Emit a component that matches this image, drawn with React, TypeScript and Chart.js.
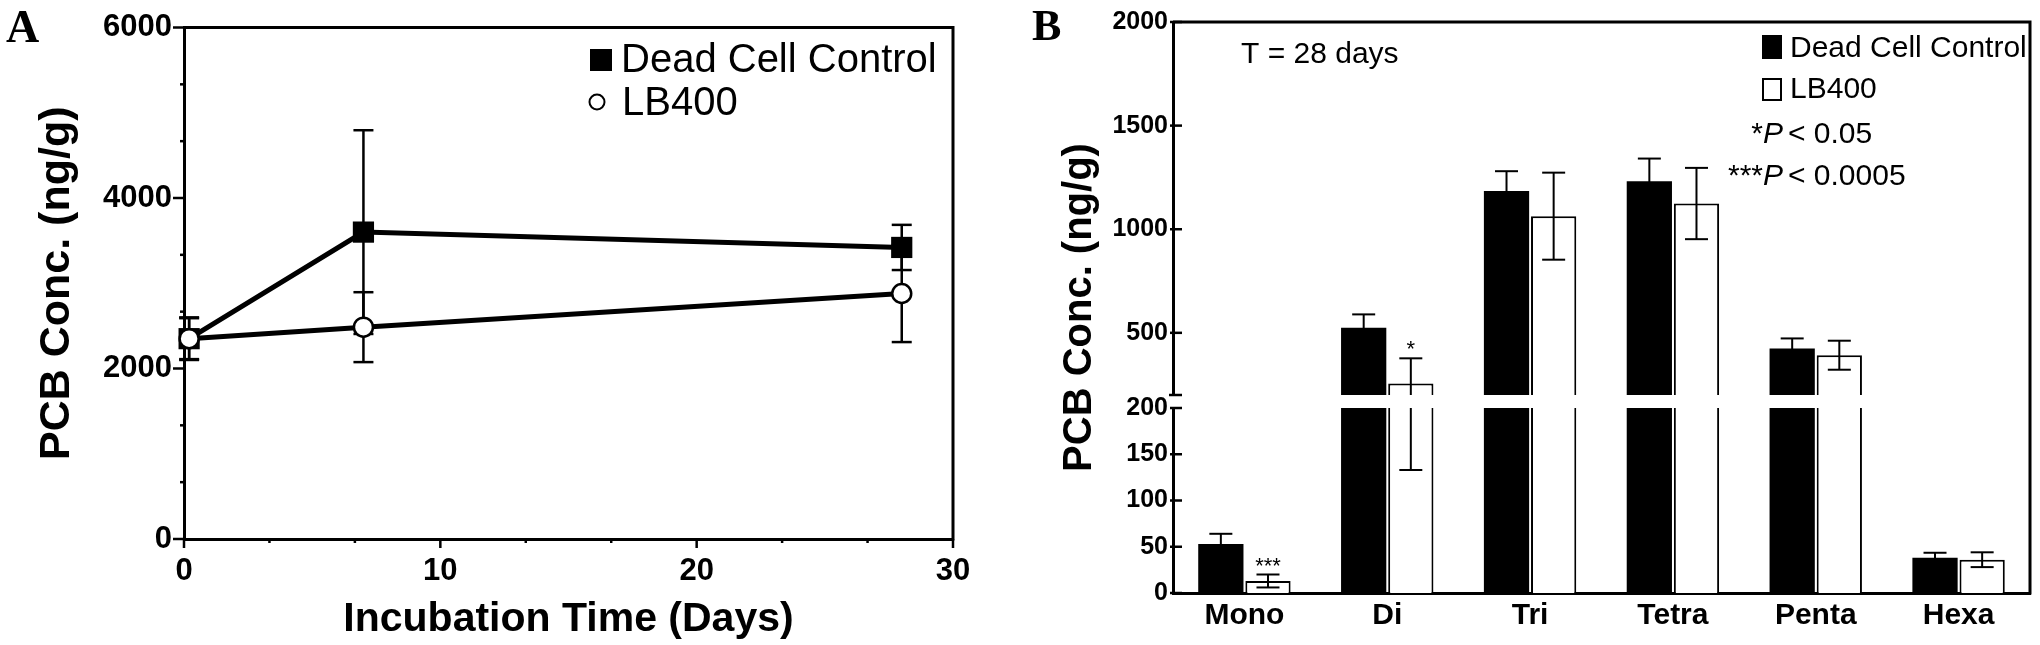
import React, { useEffect, useRef } from 'react';
import { Chart, registerables, LinearScale } from 'chart.js';

Chart.register(...registerables);

const FONT = "'Liberation Sans', Arial, Helvetica, sans-serif";
const SERIF = "'Liberation Serif', 'Times New Roman', serif";

// ---------- Panel A data ----------
const daysA = [0.2, 7, 28];
const deadCellA = [2350, 3600, 3420];
const deadCellErrA = [250, 1195, 265];
const lb400A = [2350, 2485, 2880];
const lb400ErrA = [240, 410, 570];
const xTicksA = [0, 10, 20, 30];
const yTicksA = [0, 2000, 4000, 6000];

// ---------- Panel B data ----------
const congeners = ['Mono', 'Di', 'Tri', 'Tetra', 'Penta', 'Hexa'];
const deadCellB = [53, 524, 1185, 1232, 425, 38];
const deadCellErrB = [11, 65, 95, 109, 48, 5.5];
const lb400B = [13, 255, 1063, 1124, 392, 36];
const lb400ErrB = [7, 122, 210, 172, 70, 8];
const sigB = ['***', '*', '', '', '', ''];
const yTicksB = [0, 50, 100, 150, 200, 500, 1000, 1500, 2000];
const BREAK_VALUE = 200;
const Y_MAX_B = 2000;

// fractions of the axis height used by the lower segment and the gap
const LOWER_FRAC = 185 / 571;
const GAP_FRAC = 13 / 571;

class BrokenLinearScale extends LinearScale {
  static id = 'brokenLinear';
  static defaults = {};
  getPixelForValue(value: number) {
    const min = this.min;
    const max = this.max;
    let dec: number;
    if (value <= BREAK_VALUE) {
      dec = ((value - min) / (BREAK_VALUE - min)) * LOWER_FRAC;
    } else {
      dec = LOWER_FRAC + GAP_FRAC + ((value - BREAK_VALUE) / (max - BREAK_VALUE)) * (1 - LOWER_FRAC - GAP_FRAC);
    }
    return this.getPixelForDecimal(dec);
  }
  getValueForPixel(pixel: number) {
    const dec = this.getDecimalForPixel(pixel);
    if (dec <= LOWER_FRAC) return this.min + (dec / LOWER_FRAC) * (BREAK_VALUE - this.min);
    return BREAK_VALUE + ((dec - LOWER_FRAC - GAP_FRAC) / (1 - LOWER_FRAC - GAP_FRAC)) * (this.max - BREAK_VALUE);
  }
}
Chart.register(BrokenLinearScale as any);

Chart.defaults.color = '#000';
Chart.defaults.font.family = FONT;

function line(ctx: CanvasRenderingContext2D, x1: number, y1: number, x2: number, y2: number) {
  ctx.beginPath();
  ctx.moveTo(x1, y1);
  ctx.lineTo(x2, y2);
  ctx.stroke();
}

function text(ctx: CanvasRenderingContext2D, s: string, x: number, y: number, font: string, align: CanvasTextAlign = 'left') {
  ctx.font = font;
  ctx.textAlign = align;
  ctx.textBaseline = 'alphabetic';
  ctx.fillStyle = '#000';
  ctx.fillText(s, x, y);
}

const panelAPlugin = {
  id: 'panelA',
  beforeDatasetsDraw(chart: any) {
    const { ctx, scales } = chart;
    const x = scales.x, y = scales.y;
    ctx.save();
    ctx.strokeStyle = '#000';
    ctx.lineWidth = 2.5;
    const series: [number[], number[]][] = [[deadCellA, deadCellErrA], [lb400A, lb400ErrA]];
    for (const [vals, errs] of series) {
      vals.forEach((v, i) => {
        const px = x.getPixelForValue(daysA[i]);
        const top = y.getPixelForValue(v + errs[i]);
        const bot = y.getPixelForValue(v - errs[i]);
        line(ctx, px, top, px, bot);
        line(ctx, px - 10, top, px + 10, top);
        line(ctx, px - 10, bot, px + 10, bot);
      });
    }
    ctx.restore();
  },
  afterDraw(chart: any) {
    const { ctx, chartArea: ca, scales } = chart;
    const x = scales.x, y = scales.y;
    ctx.save();
    ctx.strokeStyle = '#000';
    ctx.lineWidth = 3;
    ctx.beginPath();
    ctx.moveTo(ca.left, ca.top);
    ctx.lineTo(ca.right, ca.top);
    ctx.lineTo(ca.right, ca.bottom + 1.5);
    ctx.stroke();

    ctx.lineWidth = 2.5;
    for (let k = 0; k < xTicksA.length; k++) {
      const px = x.getPixelForValue(xTicksA[k]);
      line(ctx, px, ca.bottom, px, ca.bottom + 9);
      if (k < xTicksA.length - 1) {
        for (let m = 1; m < 3; m++) {
          const v = xTicksA[k] + ((xTicksA[k + 1] - xTicksA[k]) * m) / 3;
          const pm = x.getPixelForValue(v);
          line(ctx, pm, ca.bottom, pm, ca.bottom + 4);
        }
      }
    }
    for (let k = 0; k < yTicksA.length; k++) {
      const py = y.getPixelForValue(yTicksA[k]);
      line(ctx, ca.left - 11, py, ca.left, py);
      if (k < yTicksA.length - 1) {
        for (let m = 1; m < 3; m++) {
          const v = yTicksA[k] + ((yTicksA[k + 1] - yTicksA[k]) * m) / 3;
          const pm = y.getPixelForValue(v);
          line(ctx, ca.left - 4, pm, ca.left, pm);
        }
      }
    }

    // legend
    ctx.fillStyle = '#000';
    ctx.fillRect(590, 49, 22, 22);
    text(ctx, 'Dead Cell Control', 621, 72, `40px ${FONT}`);
    ctx.beginPath();
    ctx.arc(597, 102, 7.5, 0, Math.PI * 2);
    ctx.fillStyle = '#fff';
    ctx.fill();
    ctx.lineWidth = 2;
    ctx.stroke();
    text(ctx, 'LB400', 622, 115, `40px ${FONT}`);

    text(ctx, 'A', 6, 42, `bold 46px ${SERIF}`);
    ctx.restore();
  },
};

const panelBPlugin = {
  id: 'panelB',
  afterDatasetsDraw(chart: any) {
    const { ctx, chartArea: ca, scales } = chart;
    const y = scales.y;
    ctx.save();
    ctx.strokeStyle = '#000';
    ctx.lineWidth = 2;
    const series: [number[], number[]][] = [[deadCellB, deadCellErrB], [lb400B, lb400ErrB]];
    series.forEach(([vals, errs], d) => {
      const meta = chart.getDatasetMeta(d);
      vals.forEach((v, i) => {
        const px = meta.data[i].x;
        const top = y.getPixelForValue(v + errs[i]);
        const bot = y.getPixelForValue(Math.max(v - errs[i], 0));
        line(ctx, px, top, px, bot);
        line(ctx, px - 11.5, top, px + 11.5, top);
        line(ctx, px - 11.5, bot, px + 11.5, bot);
      });
    });

    // significance marks above LB400 bars
    const metaLB = chart.getDatasetMeta(1);
    sigB.forEach((s, i) => {
      if (!s) return;
      const px = metaLB.data[i].x;
      const py = y.getPixelForValue(lb400B[i] + lb400ErrB[i]);
      text(ctx, s, px, py - 2, `22px ${FONT}`, 'center');
    });

    // axis break
    const gapTop = y.getPixelForValue(BREAK_VALUE + 1e-6);
    const gapBot = y.getPixelForValue(BREAK_VALUE);
    ctx.fillStyle = '#fff';
    ctx.fillRect(ca.left - 3, gapTop, ca.right - ca.left + 3, gapBot - gapTop);

    // ticks (inward)
    ctx.lineWidth = 2.5;
    yTicksB.forEach((v) => {
      const py = y.getPixelForValue(v);
      line(ctx, ca.left - 3, py, ca.left + 9, py);
    });
    line(ctx, ca.left - 4, gapTop, ca.left + 9, gapTop);

    // frame
    ctx.lineWidth = 3;
    ctx.beginPath();
    ctx.moveTo(ca.left, ca.top);
    ctx.lineTo(ca.right, ca.top);
    ctx.lineTo(ca.right, ca.bottom + 1.5);
    ctx.stroke();
    ctx.restore();
  },
  afterDraw(chart: any) {
    const { ctx } = chart;
    ctx.save();
    text(ctx, 'B', 12, 40, `bold 44px ${SERIF}`);
    text(ctx, 'T = 28 days', 221, 63, `30px ${FONT}`);

    // legend
    ctx.fillStyle = '#000';
    ctx.fillRect(742, 35, 20, 24);
    ctx.fillStyle = '#fff';
    ctx.fillRect(743, 79, 18, 21);
    ctx.strokeStyle = '#000';
    ctx.lineWidth = 2;
    ctx.strokeRect(743, 79, 18, 21);
    text(ctx, 'Dead Cell Control', 770, 57, `30px ${FONT}`);
    text(ctx, 'LB400', 770, 98, `30px ${FONT}`);

    const pRows: [string, string, number][] = [['*', '< 0.05', 143], ['***', '< 0.0005', 185]];
    pRows.forEach(([stars, val, base]) => {
      text(ctx, val, 768, base, `30px ${FONT}`);
      ctx.font = `italic 30px ${FONT}`;
      const pw = ctx.measureText('P').width;
      text(ctx, 'P', 763, base, `italic 30px ${FONT}`, 'right');
      text(ctx, stars, 763 - pw, base, `30px ${FONT}`, 'right');
    });
    ctx.restore();
  },
};

function PanelA() {
  const ref = useRef<HTMLCanvasElement>(null);
  useEffect(() => {
    const chart = new Chart(ref.current as HTMLCanvasElement, {
      type: 'line',
      data: {
        datasets: [
          {
            label: 'LB400',
            data: daysA.map((d, i) => ({ x: d, y: lb400A[i] })),
            borderColor: '#000',
            borderWidth: 5,
            pointStyle: 'circle',
            pointRadius: 9.5,
            pointBackgroundColor: '#fff',
            pointBorderColor: '#000',
            pointBorderWidth: 2.5,
            tension: 0,
            fill: false,
            clip: false,
          },
          {
            label: 'Dead Cell Control',
            data: daysA.map((d, i) => ({ x: d, y: deadCellA[i] })),
            borderColor: '#000',
            borderWidth: 5,
            pointStyle: 'rect',
            pointRadius: 15,
            pointBackgroundColor: '#000',
            pointBorderColor: '#000',
            pointBorderWidth: 0,
            tension: 0,
            fill: false,
            clip: false,
          },
        ],
      } as any,
      options: {
        responsive: false,
        maintainAspectRatio: false,
        animation: false,
        events: [],
        layout: { padding: { top: 25, right: 67, left: 0, bottom: 0 } },
        plugins: { legend: { display: false }, tooltip: { enabled: false } },
        scales: {
          x: {
            type: 'linear',
            min: 0,
            max: 30,
            afterBuildTicks: (s: any) => {
              s.ticks = xTicksA.map((v) => ({ value: v }));
            },
            afterFit: (s: any) => {
              s.height = 106;
            },
            ticks: {
              font: { family: FONT, size: 31, weight: 'bold', lineHeight: 1 },
              color: '#000',
              padding: 16.5,
              maxRotation: 0,
              callback: (v: any) => String(v),
            },
            grid: { display: false, drawTicks: false },
            border: { display: true, color: '#000', width: 3 },
            title: {
              display: true,
              text: 'Incubation Time (Days)',
              color: '#000',
              font: { family: FONT, size: 41, weight: 'bold', lineHeight: 1 },
              padding: { top: 0, bottom: 5 },
            },
          },
          y: {
            type: 'linear',
            min: 0,
            max: 6000,
            afterBuildTicks: (s: any) => {
              s.ticks = yTicksA.map((v) => ({ value: v }));
            },
            afterFit: (s: any) => {
              s.width = 184;
            },
            ticks: {
              font: { family: FONT, size: 31, weight: 'bold', lineHeight: 1 },
              color: '#000',
              padding: 12,
              callback: (v: any) => String(v),
            },
            grid: { display: false, drawTicks: false },
            border: { display: true, color: '#000', width: 3 },
            title: {
              display: true,
              text: 'PCB Conc. (ng/g)',
              color: '#000',
              font: { family: FONT, size: 43, weight: 'bold', lineHeight: 1 },
              padding: { top: 36, bottom: 0 },
            },
          },
        },
      } as any,
      plugins: [panelAPlugin],
    });
    return () => chart.destroy();
  }, []);
  return <canvas ref={ref} width={1020} height={645} style={{ display: 'block', width: 1020, height: 645 }} />;
}

function PanelB() {
  const ref = useRef<HTMLCanvasElement>(null);
  useEffect(() => {
    const chart = new Chart(ref.current as HTMLCanvasElement, {
      type: 'bar',
      data: {
        labels: congeners,
        datasets: [
          {
            label: 'Dead Cell Control',
            data: deadCellB,
            backgroundColor: '#000',
            borderWidth: 0,
            categoryPercentage: 0.66,
            barPercentage: 0.96,
          },
          {
            label: 'LB400',
            data: lb400B,
            backgroundColor: '#fff',
            borderColor: '#000',
            borderWidth: 2,
            borderSkipped: 'bottom',
            categoryPercentage: 0.66,
            barPercentage: 0.96,
          },
        ],
      } as any,
      options: {
        responsive: false,
        maintainAspectRatio: false,
        animation: false,
        events: [],
        layout: { padding: { top: 22, right: 10, left: 0, bottom: 0 } },
        plugins: { legend: { display: false }, tooltip: { enabled: false } },
        scales: {
          x: {
            type: 'category',
            afterFit: (s: any) => {
              s.height = 52;
            },
            ticks: {
              font: { family: FONT, size: 30, weight: 'bold', lineHeight: 1 },
              color: '#000',
              padding: 7.5,
              maxRotation: 0,
            },
            grid: { display: false, drawTicks: false },
            border: { display: true, color: '#000', width: 3 },
          },
          y: {
            type: 'brokenLinear',
            min: 0,
            max: Y_MAX_B,
            afterBuildTicks: (s: any) => {
              s.ticks = yTicksB.map((v) => ({ value: v }));
            },
            afterFit: (s: any) => {
              s.width = 153;
            },
            ticks: {
              font: { family: FONT, size: 25, weight: 'bold', lineHeight: 1 },
              color: '#000',
              padding: 5,
              callback: (v: any) => String(v),
            },
            grid: { display: false, drawTicks: false },
            border: { display: true, color: '#000', width: 3 },
            title: {
              display: true,
              text: 'PCB Conc. (ng/g)',
              color: '#000',
              font: { family: FONT, size: 40, weight: 'bold', lineHeight: 1 },
              padding: { top: 40, bottom: 0 },
            },
          },
        },
      } as any,
      plugins: [panelBPlugin],
    });
    return () => chart.destroy();
  }, []);
  return <canvas ref={ref} width={1020} height={645} style={{ display: 'block', width: 1020, height: 645 }} />;
}

export default function App() {
  return (
    <div
      style={{
        position: 'absolute',
        left: 0,
        top: 0,
        width: 2040,
        height: 645,
        background: '#fff',
        display: 'flex',
        overflow: 'hidden',
      }}
    >
      <PanelA />
      <PanelB />
    </div>
  );
}
